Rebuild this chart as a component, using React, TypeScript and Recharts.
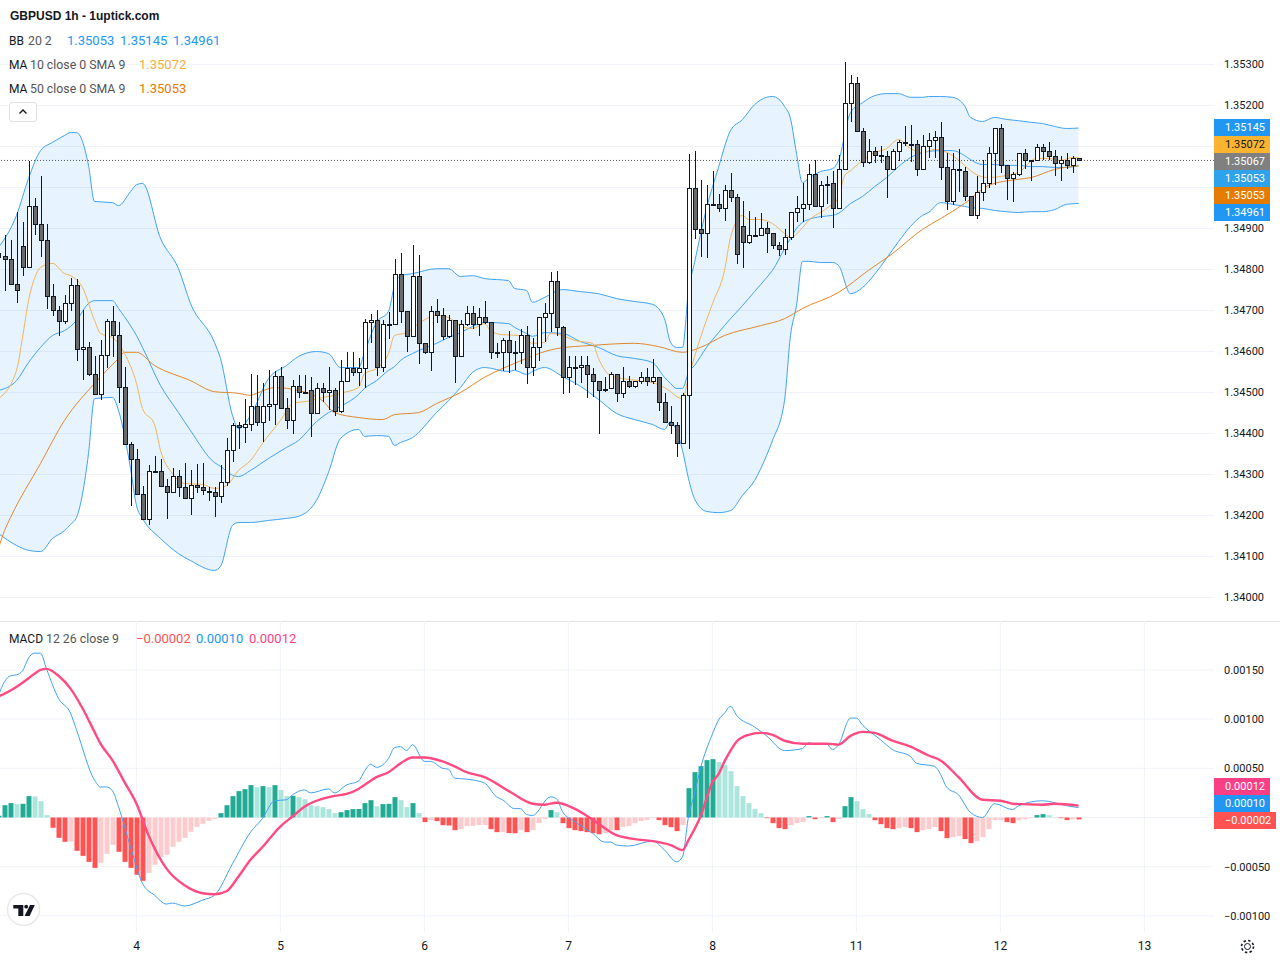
import { Area, Bar, CartesianGrid, Cell, ComposedChart, Line, ReferenceLine, XAxis, YAxis } from 'recharts';

// Prices are in 1e-5 units, one entry per hourly candle
const opens = [
  134840,134834,134826,134765,134858,134806,134955,134911,134872,134736,
  134702,134674,134719,134763,134607,134611,134546,134497,134592,134675,
  134641,134513,134375,134338,134253,134192,134308,134308,134272,134258,
  134297,134270,134243,134275,134270,134259,134258,134248,134282,134360,
  134421,134415,134424,134468,134429,134466,134473,134541,134463,134434,
  134515,134502,134505,134449,134512,134502,134507,134454,134529,134559,
  134551,134559,134671,134676,134563,134666,134668,134788,134700,134639,
  134785,134620,134600,134700,134688,134637,134678,134590,134668,134693,
  134668,134685,134673,134600,134600,134627,134598,134598,134641,134563,
  134612,134685,134693,134773,134659,134537,134561,134561,134566,134546,
  134529,134509,134510,134544,134500,134529,134517,134529,134537,134527,
  134537,134478,134429,134420,134376,134493,134998,134898,134888,134961,
  134961,134951,134995,134976,134905,134866,134885,134883,134902,134888,
  134861,134849,134880,134941,134949,134959,135032,134954,135007,135010,
  134949,135044,135207,135256,135137,135063,135090,135080,135076,135046,
  135088,135110,135107,135105,135046,135102,135117,135122,135049,134966,
  135044,135041,134980,134934,134990,135010,135085,135146,135056,135022,
  135032,135083,135067,135067,135100,135088,135078,135061,135066,135054,
  135071,
];
const highs = [
  134855,134883,134871,134941,134917,135064,134975,135027,134911,134765,
  134711,134739,134780,134777,134702,134622,134588,134628,134680,134711,
  134671,134563,134380,134363,134273,134324,134344,134337,134289,134316,
  134311,134328,134310,134326,134329,134269,134269,134324,134388,134425,
  134428,134485,134546,134542,134524,134554,134552,134561,134486,134530,
  134542,134542,134537,134524,134522,134562,134512,134580,134598,134598,
  134583,134680,134691,134702,134676,134697,134825,134840,134700,134861,
  134835,134620,134712,134729,134707,134689,134678,134678,134711,134711,
  134707,134724,134673,134620,134632,134651,134625,134656,134663,134634,
  134685,134718,134793,134796,134663,134590,134590,134590,134590,134559,
  134529,134537,134551,134544,134563,134541,134529,134551,134559,134581,
  134537,134500,134468,134427,134498,135081,135089,135018,135005,135040,
  134985,135005,135035,134983,134967,134942,134927,134939,134917,134888,
  134868,134900,134941,134979,135010,135057,135067,135015,135027,135041,
  135079,135306,135274,135269,135146,135118,135098,135101,135088,135095,
  135117,135151,135152,135117,135129,135134,135139,135159,135083,135085,
  135095,135051,134980,135027,135068,135098,135146,135154,135056,135039,
  135083,135095,135068,135107,135107,135112,135091,135078,135083,135078,
  135072,
];
const lows = [
  134645,134747,134763,134718,134783,134806,134883,134830,134703,134686,
  134639,134667,134698,134576,134531,134541,134493,134482,134559,134586,
  134474,134375,134224,134251,134189,134176,134306,134272,134191,134258,
  134245,134240,134201,134254,134250,134235,134196,134230,134273,134330,
  134363,134377,134407,134419,134380,134431,134421,134459,134411,134399,
  134487,134500,134392,134448,134476,134457,134442,134450,134528,134540,
  134515,134512,134620,134541,134550,134631,134667,134669,134598,134638,
  134569,134593,134553,134670,134628,134634,134524,134589,134663,134656,
  134638,134668,134581,134585,134553,134548,134556,134569,134521,134541,
  134577,134622,134647,134637,134497,134499,134518,134522,134487,134488,
  134398,134501,134509,134477,134487,134510,134510,134521,134515,134520,
  134455,134429,134398,134343,134375,134363,134874,134831,134828,134955,
  134940,134918,134964,134813,134804,134863,134883,134883,134841,134851,
  134833,134836,134872,134917,134917,134945,134954,134925,134961,134902,
  134949,135042,135159,135137,135050,135057,135059,135060,134975,135046,
  135064,135102,135063,135028,135046,135072,135071,135019,134946,134958,
  134989,134968,134934,134924,134967,135000,135007,135035,134970,134965,
  135027,135044,135016,135067,135067,135067,135028,135016,135046,135036,
  135066,
];
const closes = [
  134830,134826,134765,134750,134806,134955,134911,134872,134736,134702,
  134674,134719,134763,134607,134611,134544,134497,134592,134675,134641,
  134513,134375,134338,134253,134192,134308,134309,134272,134258,134297,
  134270,134243,134275,134270,134261,134258,134248,134282,134360,134421,
  134415,134424,134468,134429,134466,134473,134541,134463,134434,134515,
  134502,134501,134449,134512,134502,134507,134454,134529,134559,134551,
  134559,134671,134676,134563,134666,134668,134788,134700,134639,134785,
  134620,134600,134700,134688,134637,134678,134590,134668,134693,134668,
  134685,134673,134600,134599,134627,134598,134599,134641,134563,134612,
  134685,134693,134773,134659,134537,134561,134562,134566,134546,134529,
  134507,134508,134544,134500,134529,134517,134529,134537,134527,134537,
  134478,134429,134420,134376,134493,134998,134898,134888,134961,134960,
  134951,134995,134976,134839,134866,134885,134884,134902,134888,134861,
  134849,134880,134941,134949,134959,135032,134954,135007,135008,134949,
  135044,135207,135256,135137,135063,135090,135080,135076,135046,135088,
  135110,135109,135105,135046,135102,135117,135122,135049,134966,135044,
  135043,134980,134934,134990,135010,135085,135146,135056,135022,135032,
  135083,135066,135066,135100,135088,135078,135061,135066,135054,135071,
  135067,
];

// Bollinger bands, read at these candles
const bandIdx = [
  0,3,5,7,9,11,12,13,15,16,19,20,22,23,24,27,30,32,36,37,39,40,42,45,48,50,53,55,57,60,61,63,65,66,67,69,73,75,77,79,81,
  85,86,88,89,91,94,97,100,103,106,109,111,112,113,114,115,116,118,120,122,124,126,128,129,131,132,133,134,135,137,139,140,
  142,144,146,148,150,152,154,155,157,159,161,162,164,166,168,170,172,174,176,178,180,
];
const bbUpper = [
  134854,134932,135022,135090,135110,135127,135134,135134,135054,134966,134963,134956,134990,135007,135010,134876,134802,134717,134622,134583,134444,134412,134444,134534,134566,134588,134600,134595,134561,134561,134598,134671,134698,134761,134785,134790,134802,134802,134783,134785,134778,
  134773,134754,134749,134720,134732,134751,134746,134741,134729,134722,134715,134680,134622,134610,134610,134749,134817,134949,135049,135139,135166,135202,135220,135222,135198,135168,135083,135012,135022,135039,135046,135066,
  135183,135207,135224,135229,135229,135220,135220,135222,135222,135220,135200,135171,135161,135171,135166,135163,135159,135156,135149,135144,135145,
];
const bbBasis = [
  134505,134529,134573,134610,134639,134651,134661,134676,134717,134724,134724,134705,134663,134639,134610,134517,134451,134407,134329,134320,134298,134295,134310,134339,134366,134383,134429,134451,134466,134495,134510,134529,134554,134563,134578,134595,134620,134634,134646,134661,134671,
  134668,134659,134644,134637,134646,134644,134624,134610,134590,134583,134573,134537,134522,134510,134510,134549,134566,134610,134646,134680,134712,134746,134780,134798,134851,134876,134900,134915,134922,134929,134932,134937,
  134961,134978,135002,135024,135051,135073,135085,135088,135090,135090,135078,135068,135056,135056,135054,135054,135051,135051,135049,135049,135053,
];
const bbLower = [
  134156,134127,134115,134112,134144,134163,134178,134195,134351,134485,134488,134456,134315,134224,134193,134144,134107,134090,134066,134076,134176,134183,134183,134188,134193,134198,134237,134305,134388,134410,134393,134395,134393,134371,134378,134390,134451,134480,134512,134549,134561,
  134551,134554,134544,134551,134561,134539,134515,134483,134449,134434,134422,134410,134429,134407,134359,134290,134241,134210,134207,134212,134249,134285,134346,134383,134480,134639,134712,134820,134820,134817,134817,134810,
  134741,134756,134788,134827,134868,134905,134932,134939,134963,134959,134954,134951,134949,134944,134941,134939,134941,134941,134946,134959,134961,
];

const ma10Idx = [
  0,3,4,5,6,7,9,11,12,14,16,17,19,21,23,24,26,27,29,31,34,36,38,40,42,44,47,49,52,54,56,57,60,61,63,65,66,68,70,73,75,77,79,81,82,84,87,89,91,92,94,96,99,100,102,104,109,111,114,115,117,119,121,122,124,125,127,129,131,132,134,135,138,140,141,142,144,146,148,150,152,154,156,159,161,162,165,167,170,173,175,177,179,180,
];
const ma10 = [
  134485,134554,134634,134724,134778,134805,134815,134790,134785,134756,134676,134644,134634,134595,134522,134461,134422,134359,134302,134278,134276,134266,134273,134310,134334,134376,134432,134473,134480,134488,134493,134498,134512,134546,134559,134595,134639,134646,134668,134688,134683,134663,134656,134668,134651,134641,134639,134620,134622,134644,134639,134627,134620,134583,134541,134534,134524,134512,134485,134537,134634,134717,134798,134878,134932,134922,134922,134912,134888,134878,134902,134919,134949,134976,135029,135041,135066,135085,135095,135117,135095,135085,135093,135078,135054,135041,135024,135027,135037,135071,135071,135066,135073,135072,
];

const ma50Idx = [
  0,1,2,7,11,16,20,21,23,26,32,36,40,42,43,46,50,54,56,60,64,66,70,73,77,81,86,93,99,106,110,114,117,121,127,131,134,140,145,149,154,157,161,165,170,172,176,180,
];
const ma50 = [
  134120,134163,134195,134327,134432,134522,134583,134598,134598,134566,134529,134502,134498,134493,134498,134512,134505,134480,134451,134439,134434,134446,134451,134473,134500,134537,134571,134607,134615,134620,134612,134598,134610,134639,134663,134680,134705,134744,134798,134839,134898,134924,134961,135005,135020,135024,135044,135053,
];

// MACD panel: histogram per candle in 1e-6 units, lines in 1e-5 units
const histogram = [
  17,125,146,136,139,217,214,166,24,-105,
  -207,-247,-244,-339,-390,-451,-512,-461,-370,-278,
  -349,-451,-512,-583,-644,-563,-481,-400,-380,-298,
  -247,-207,-146,-95,-64,-34,-14,44,125,217,
  268,288,329,308,319,308,329,278,217,220,
  207,186,125,115,105,85,44,54,75,85,
  86,146,176,115,136,139,207,176,105,146,
  44,-47,-27,-37,-78,-81,-129,-119,-88,-85,
  -78,-78,-119,-149,-148,-159,-160,-129,-149,-129,
  -58,-17,75,54,-58,-108,-129,-139,-149,-159,
  -170,-159,-129,-130,-98,-88,-58,-37,-27,-7,
  -27,-78,-98,-139,-78,298,461,522,583,593,
  563,532,471,319,217,146,85,44,-7,-58,
  -108,-119,-78,-58,-47,14,-17,-7,14,-47,
  -17,115,207,166,85,34,-27,-68,-108,-119,
  -108,-98,-108,-149,-129,-119,-98,-139,-210,-200,
  -190,-220,-261,-241,-200,-119,-27,-27,-47,-58,
  -27,-17,-7,24,34,24,3,-7,-27,-19,
  -20,
];
const macdIdx = [
  0,1,2,3,4,5,6,7,8,10,12,13,16,17,18,19,20,22,24,26,28,29,31,34,36,39,42,44,46,48,49,51,52,55,56,58,60,
  61,62,63,65,66,67,68,69,71,72,74,75,76,78,81,83,84,86,87,88,89,92,93,94,96,99,101,102,103,105,109,111,113,114,115,116,117,119,120,
  121,122,123,126,128,131,134,135,136,138,139,140,142,143,144,147,149,152,153,156,157,158,160,162,164,166,169,170,174,178,180,
];
const macdLine = [
  124,138,144,145,149,162,167,167,151,121,106,89,38,31,31,27,11,-30,-67,-79,-88,-87,-90,-84,-79,-47,-15,-1,17,18,23,28,25,29,25,33,37,
  47,54,51,60,71,72,68,74,57,57,50,49,40,39,35,21,18,9,9,3,2,21,19,6,-4,-16,-25,-25,-28,-29,-24,-33,-45,-40,1,24,50,85,99,
  106,113,104,92,83,68,70,76,74,75,69,74,101,101,94,79,69,62,55,52,44,31,23,5,0,14,8,12,17,12,10,
];
const signalIdx = [
  0,2,4,6,7,8,10,12,14,16,17,19,21,23,25,28,31,34,36,38,40,42,44,47,49,51,53,56,58,60,
  61,63,65,67,69,71,74,76,78,81,85,89,91,93,96,99,103,106,109,112,114,115,117,119,120,
  121,122,123,125,127,129,131,134,138,140,142,144,146,149,152,155,157,160,164,167,169,174,176,180,
];
const signalLine = [
  123,129,137,146,150,151,144,131,111,87,75,58,36,14,-18,-52,-69,-77,-78,-75,-60,-43,-30,-9,1,11,17,22,24,29,
  33,41,46,55,61,61,57,52,46,41,27,14,13,15,9,-2,-18,-22,-24,-28,-33,-23,1,36,44,
  57,68,77,84,86,84,78,75,75,74,83,87,86,78,72,63,58,41,18,17,14,13,14,12,
];

const priceTicks = [134000,134100,134200,134300,134400,134500,134600,134700,134800,134900,135000,135100,135200,135300];
const macdTicks = [-100,-50,0,50,100,150];
const dayTicks = [23,47,71,95,119,143,167,191];
const dayLabels = ['4','5','6','7','8','11','12','13'];

const BB_TAGS = [
  { text: '1.35145', bg: '#2196f3', color: '#fff' },
  { text: '1.35072', bg: '#fbb42f', color: '#131722' },
  { text: '1.35067', bg: '#808080', color: '#fff' },
  { text: '1.35053', bg: '#2ea2ea', color: '#fff' },
  { text: '1.35053', bg: '#e57c00', color: '#fff' },
  { text: '1.34961', bg: '#2196f3', color: '#fff' },
];
const MACD_TAGS = [
  { text: '0.00012', bg: '#fb3f84', color: '#fff', width: 56 },
  { text: '0.00010', bg: '#2196f3', color: '#fff', width: 56 },
  { text: '\u22120.00002', bg: '#ff5252', color: '#fff', width: 62 },
];

const rows = opens.map((o, i) => ({ i, o: o / 1e5, h: highs[i] / 1e5, l: lows[i] / 1e5, c: closes[i] / 1e5, range: [lows[i] / 1e5, highs[i] / 1e5] })) as any[];
bandIdx.forEach((i, k) => {
  rows[i].upper = bbUpper[k] / 1e5;
  rows[i].basis = bbBasis[k] / 1e5;
  rows[i].lower = bbLower[k] / 1e5;
  rows[i].band = [bbLower[k] / 1e5, bbUpper[k] / 1e5];
});
ma10Idx.forEach((i, k) => { rows[i].ma10 = ma10[k] / 1e5; });
ma50Idx.forEach((i, k) => { rows[i].ma50 = ma50[k] / 1e5; });

const macdRows = histogram.map((v, i) => ({ i, hist: v / 1e6 })) as any[];
macdIdx.forEach((i, k) => { macdRows[i].macd = macdLine[k] / 1e5; });
signalIdx.forEach((i, k) => { macdRows[i].signal = signalLine[k] / 1e5; });

function histColor(i: number) {
  const v = histogram[i];
  const prev = i > 0 ? histogram[i - 1] : 0;
  if (v >= 0) return v > prev ? '#22ab94' : '#ace5dc';
  return v < prev ? '#ff5252' : '#fccbcd';
}

function Candle(props: any) {
  const { x, y, width, height, payload } = props;
  const { o, h, l, c } = payload;
  const span = h - l || 1;
  const yOf = (p: number) => y + ((h - p) / span) * height;
  const left = Math.floor(x + width / 2) - 2;
  const top = Math.round(yOf(Math.max(o, c)));
  const bottom = Math.round(yOf(Math.min(o, c)));
  const bodyH = Math.max(bottom - top, 1) + 1;
  return (
    <g shapeRendering="crispEdges">
      <rect x={left + 2} y={y} width={1} height={height} fill="#131722" />
      <rect x={left} y={top} width={5} height={bodyH} fill="#131722" />
      {bodyH > 2 && <rect x={left + 1} y={top + 1} width={3} height={bodyH - 2} fill={c >= o ? '#ffffff' : '#6a6a6a'} />}
    </g>
  );
}

// labels that sit under the price tags stay as grid lines only
const hiddenPrices = [1.35, 1.351];
const formatPrice = (v: number) => (hiddenPrices.includes(v) ? '' : v.toFixed(5));
const formatMacd = (v: number) => {
  if (v === 0) return '';
  return v < 0 ? '\u2212' + Math.abs(v).toFixed(5) : v.toFixed(5);
};
const X_DOMAIN = [0.25, 202.58];
const PRICE_DOMAIN = [1.339427, 1.353793];
const font = 'Roboto, Arial, sans-serif';
const axisTick = { fill: '#131722', fontSize: 11, fontFamily: font };

function Text({ left, top, color, children, style }: any) {
  return <span style={{ position: 'absolute', left, top, color, whiteSpace: 'nowrap', lineHeight: '16px', fontSize: 13, fontFamily: font, ...style }}>{children}</span>;
}

function Tag({ top, text, bg, color, width = 56 }: any) {
  return (
    <div style={{ position: 'absolute', left: 1214, top, width, height: 17, background: bg, color, fontFamily: font, fontSize: 11, lineHeight: '17px', paddingLeft: 11, boxSizing: 'border-box', whiteSpace: 'nowrap' }}>
      {text}
    </div>
  );
}

const lineProps = { dot: false, connectNulls: true, isAnimationActive: false, type: 'monotone' as const };
const nameStyle = { fontSize: 12 };
const paramStyle = { fontSize: 12.3 };

export default function App() {
  return (
    <div style={{ position: 'absolute', left: 0, top: 0, width: 1280, height: 960, background: '#fff', overflow: 'hidden' }}>
      <div style={{ position: 'absolute', left: 0, top: 32 }}>
        <ComposedChart width={1280} height={589} data={rows} margin={{ top: 0, right: 0, bottom: 0, left: 0 }}>
          <CartesianGrid stroke="#f0f3fa" syncWithTicks />
          <XAxis dataKey="i" type="number" domain={X_DOMAIN} ticks={dayTicks} allowDataOverflow height={0} tick={false} axisLine={false} tickLine={false} />
          <YAxis orientation="right" width={66} domain={PRICE_DOMAIN} allowDataOverflow ticks={priceTicks.map((p) => p / 1e5)} tickFormatter={formatPrice} axisLine={false} tickLine={false} tickMargin={10} tickSize={0} tick={axisTick} interval={0} />
          <ReferenceLine y={1.35066} stroke="#555" strokeDasharray="1 2" />
          <Area dataKey="band" type="monotone" stroke="none" fill="#2196f3" fillOpacity={0.11} connectNulls isAnimationActive={false} dot={false} activeDot={false} />
          <Line dataKey="upper" stroke="#3fa3f4" strokeWidth={1} {...lineProps} />
          <Line dataKey="basis" stroke="#3fa3f4" strokeWidth={1} {...lineProps} />
          <Line dataKey="lower" stroke="#3fa3f4" strokeWidth={1} {...lineProps} />
          <Line dataKey="ma50" stroke="#e2882a" strokeWidth={1} {...lineProps} />
          <Line dataKey="ma10" stroke="#f2b55a" strokeWidth={1} {...lineProps} />
        </ComposedChart>
      </div>
      {/* candles in their own layer so they stay over the indicator lines */}
      <div style={{ position: 'absolute', left: 0, top: 32 }}>
        <ComposedChart width={1280} height={589} data={rows} margin={{ top: 0, right: 0, bottom: 0, left: 0 }}>
          <XAxis dataKey="i" type="number" domain={X_DOMAIN} ticks={dayTicks} allowDataOverflow height={0} tick={false} axisLine={false} tickLine={false} />
          <YAxis orientation="right" width={66} domain={PRICE_DOMAIN} allowDataOverflow tick={false} axisLine={false} tickLine={false} />
          <Bar dataKey="range" barSize={5} shape={<Candle />} isAnimationActive={false} />
        </ComposedChart>
      </div>
      <div style={{ position: 'absolute', left: 0, top: 621, width: 1280, height: 1, background: '#e0e3eb' }} />
      <div style={{ position: 'absolute', left: 0, top: 621 }}>
        <ComposedChart width={1280} height={339} data={macdRows} margin={{ top: 0, right: 0, bottom: 0, left: 0 }}>
          <CartesianGrid stroke="#f0f3fa" syncWithTicks />
          <XAxis dataKey="i" type="number" domain={X_DOMAIN} ticks={dayTicks} allowDataOverflow height={28} tickFormatter={(v: number) => dayLabels[dayTicks.indexOf(v)]} axisLine={false} tickLine={false} tickMargin={9} tickSize={0} tick={{ ...axisTick, fontSize: 12 }} interval={0} />
          <YAxis orientation="right" width={66} domain={[-0.001164, 0.001997]} allowDataOverflow ticks={macdTicks.map((v) => v / 1e5)} tickFormatter={formatMacd} axisLine={false} tickLine={false} tickMargin={10} tickSize={0} tick={axisTick} interval={0} />
          <Bar dataKey="hist" barSize={5} isAnimationActive={false}>
            {macdRows.map((r) => <Cell key={r.i} fill={histColor(r.i)} />)}
          </Bar>
          <Line dataKey="macd" stroke="#3fa3f4" strokeWidth={1} {...lineProps} />
          <Line dataKey="signal" stroke="#ff4a82" strokeWidth={2.4} {...lineProps} />
        </ComposedChart>
      </div>

      <Text left={10} top={8} color="#131722" style={{ fontFamily: 'Liberation Sans, Arial, sans-serif', fontWeight: 700, fontSize: 12 }}>GBPUSD 1h - 1uptick.com</Text>
      <Text left={9} top={33} color="#131722" style={nameStyle}>BB</Text>
      <Text left={28} top={33} color="#555" style={paramStyle}>20 2</Text>
      <Text left={67} top={33} color="#2196f3">1.35053</Text>
      <Text left={120} top={33} color="#2196f3">1.35145</Text>
      <Text left={173} top={33} color="#2196f3">1.34961</Text>
      <Text left={9} top={57} color="#131722" style={nameStyle}>MA</Text>
      <Text left={30} top={57} color="#555" style={paramStyle}>10 close 0 SMA 9</Text>
      <Text left={139} top={57} color="#f5b041">1.35072</Text>
      <Text left={9} top={81} color="#131722" style={nameStyle}>MA</Text>
      <Text left={30} top={81} color="#555" style={paramStyle}>50 close 0 SMA 9</Text>
      <Text left={139} top={81} color="#e57c00">1.35053</Text>
      <div style={{ position: 'absolute', left: 9, top: 102, width: 28, height: 20, border: '1px solid #dfe1e6', borderRadius: 3, background: '#fff', boxSizing: 'border-box' }}>
        <svg width={26} height={18}><path d="M9.5 10.5 L13 7 L16.5 10.5" fill="none" stroke="#131722" strokeWidth={1.4} /></svg>
      </div>

      <Text left={9} top={631} color="#131722" style={nameStyle}>MACD</Text>
      <Text left={46} top={631} color="#555" style={paramStyle}>12 26 close 9</Text>
      <Text left={136} top={631} color="#ff5252">{'\u22120.00002'}</Text>
      <Text left={196} top={631} color="#2196f3">0.00010</Text>
      <Text left={249} top={631} color="#ff4081">0.00012</Text>

      {BB_TAGS.map((t, k) => <Tag key={k} top={118.5 + k * 17} {...t} />)}
      {MACD_TAGS.map((t, k) => <Tag key={k} top={777.5 + k * 17} {...t} />)}

      <svg style={{ position: 'absolute', left: 0, top: 885 }} width={48} height={50}>
        <circle cx={23.5} cy={24.5} r={16} fill="#fff" stroke="#e8e8e8" strokeWidth={1.5} />
        <path d="M13.3 20 H23.3 V31 H18.3 V23.5 H13.3 Z" fill="#131722" />
        <circle cx={26.2} cy={21.7} r={1.9} fill="#131722" />
        <path d="M30 20 H34.8 L29.6 31 H24.6 Z" fill="#131722" />
      </svg>
      <svg style={{ position: 'absolute', left: 1239, top: 938 }} width={17} height={17}>
        <circle cx={8.5} cy={8.5} r={3} fill="none" stroke="#131722" strokeWidth={1} />
        <circle cx={8.5} cy={8.5} r={6} fill="none" stroke="#131722" strokeWidth={1.6} strokeDasharray="2.4 2.3" />
      </svg>
    </div>
  );
}
